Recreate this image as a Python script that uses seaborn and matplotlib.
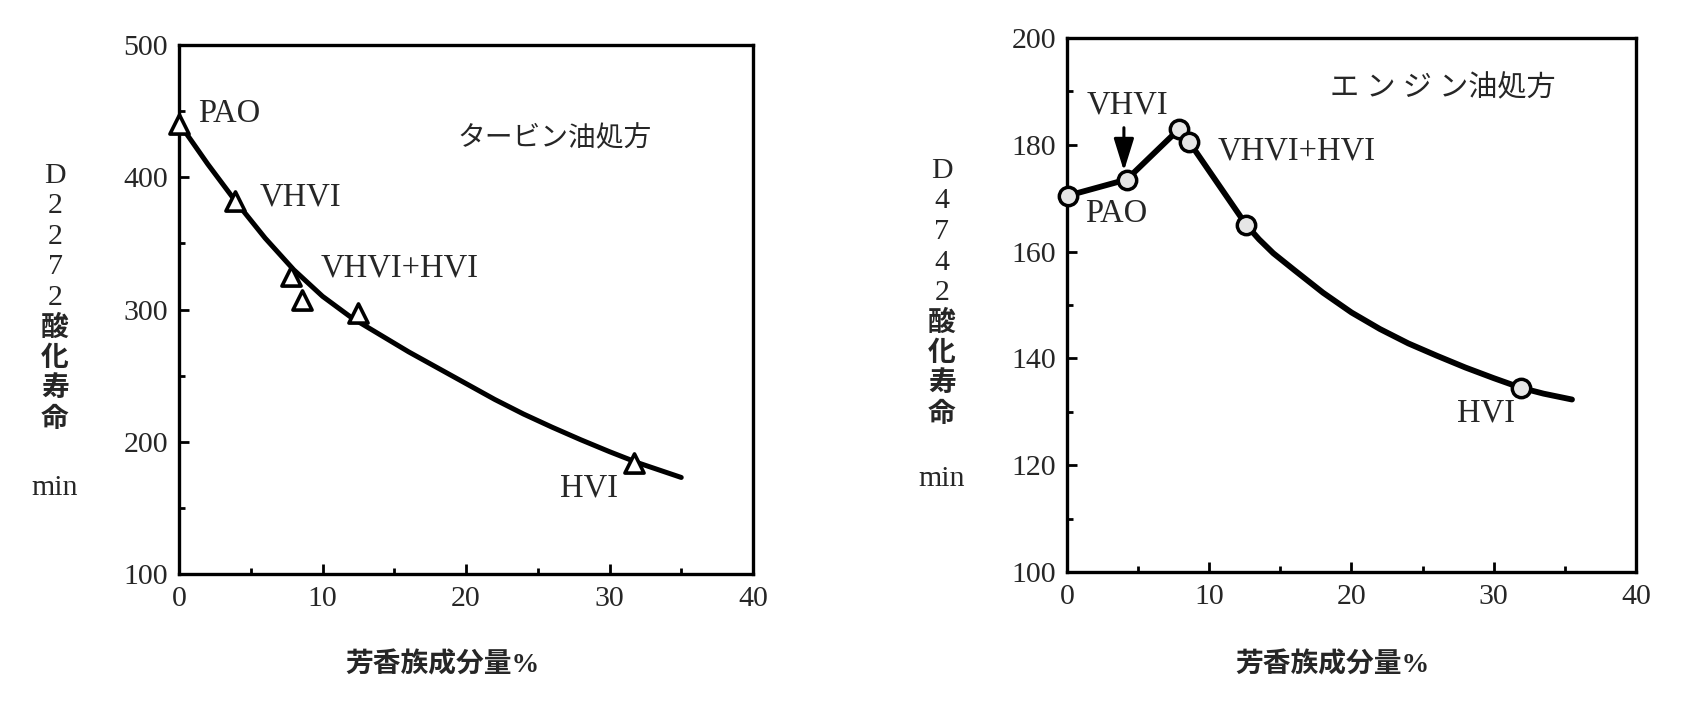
import matplotlib
matplotlib.use("Agg")
import matplotlib.pyplot as plt
from matplotlib.ticker import MultipleLocator
import seaborn as sns
import pandas as pd

# ---------------- data ----------------
# Left panel: turbine oil formulation (D2272 oxidation life, min)
turb_pts_x = [0.0, 3.9, 7.8, 8.6, 12.5, 31.7]
turb_pts_y = [440, 382, 325, 307, 297, 184]
turb_curve_x = [0, 2, 4, 6, 8, 10, 12, 14, 16, 18, 20, 22, 24, 26, 28, 30, 32, 35]
turb_curve_y = [441, 410, 381, 354, 330, 310, 294, 281, 268, 256, 244, 232, 221, 211, 201.5, 192.5, 184, 173]
turb_labels = ["PAO", "VHVI", "VHVI+HVI", "HVI"]
turb_label_x = [1.35, 5.6, 9.9, 26.55]
turb_label_y = [448, 385, 331, 165]

# Right panel: engine oil formulation (D4742 oxidation life, min)
eng_pts_x = [0.1, 4.2, 7.9, 8.6, 12.6, 31.9]
eng_pts_y = [170.5, 173.5, 183.0, 180.5, 165.0, 134.5]
eng_curve_x = [0.1, 4.2, 7.9, 8.6, 12.6, 13.5, 14.5, 16, 18, 20, 22, 24, 26, 28, 30, 31.9, 33.5, 35.5]
eng_curve_y = [170.5, 173.5, 183.0, 180.5, 165.0, 162.3, 159.7, 156.5, 152.3, 148.6, 145.5,
               142.8, 140.5, 138.3, 136.3, 134.5, 133.4, 132.3]
eng_labels = ["VHVI", "PAO", "VHVI+HVI", "HVI"]
eng_label_x = [1.4, 1.3, 10.6, 27.4]
eng_label_y = [187.5, 167.0, 178.8, 129.7]

xlabel = "芳香族成分量%"
left_title = "タービン油処方"
right_title = "エ ン ジ ン油処方"
left_ylabel = ["D", "2", "2", "7", "2", "酸", "化", "寿", "命"]
right_ylabel = ["D", "4", "7", "4", "2", "酸", "化", "寿", "命"]
ylabel_unit = "min"

# ---------------- style ----------------
sns.set_style("white")
FAM = ["Liberation Serif", "Noto Sans CJK JP"]
plt.rcParams["font.family"] = FAM
plt.rcParams["axes.linewidth"] = 2.4

fig = plt.figure(figsize=(16.99, 7.05), dpi=100)
axL = fig.add_axes([179 / 1699, 1 - 574 / 705, 574 / 1699, 529 / 705])
axR = fig.add_axes([1067 / 1699, 1 - 572 / 705, 569 / 1699, 534 / 705])

FS = 21.5
LBL = 23.5


def style_axis(ax, ymin, ymax, ymaj, ymin_step):
    ax.set_xlim(0, 40)
    ax.set_ylim(ymin, ymax)
    ax.xaxis.set_major_locator(MultipleLocator(10))
    ax.xaxis.set_minor_locator(MultipleLocator(5))
    ax.yaxis.set_major_locator(MultipleLocator(ymaj))
    ax.yaxis.set_minor_locator(MultipleLocator(ymin_step))
    ax.tick_params(which="both", direction="in", top=False, right=False,
                   left=True, bottom=True, width=2, color="black")
    ax.tick_params(which="major", length=7)
    ax.tick_params(which="minor", length=4)
    ax.tick_params(axis="x", which="major", pad=9, labelsize=FS)
    ax.tick_params(axis="y", which="major", pad=8, labelsize=FS)
    for s in ax.spines.values():
        s.set_visible(True)
        s.set_color("black")
        s.set_linewidth(2.4)
    ax.set_xlabel("")
    ax.set_ylabel("")
    ax.grid(False)


# ---------------- left panel ----------------
dfLc = pd.DataFrame({"x": turb_curve_x, "y": turb_curve_y})
dfLp = pd.DataFrame({"x": turb_pts_x, "y": turb_pts_y})
sns.lineplot(data=dfLc, x="x", y="y", ax=axL, color="black", lw=3.6,
             sort=False, estimator=None, zorder=2)
sns.scatterplot(data=dfLp, x="x", y="y", ax=axL, marker="^", s=190,
                facecolor="white", edgecolor="black", linewidth=2.6,
                zorder=3, clip_on=False)
style_axis(axL, 100, 500, 100, 50)
for t, x, y in zip(turb_labels, turb_label_x, turb_label_y):
    axL.text(x, y, t, fontsize=LBL, ha="left", va="center", family=FAM)
axL.text(19.4, 429, left_title, fontsize=20, ha="left", va="center", family=FAM)

# ---------------- right panel ----------------
dfRc = pd.DataFrame({"x": eng_curve_x, "y": eng_curve_y})
dfRp = pd.DataFrame({"x": eng_pts_x, "y": eng_pts_y})
sns.lineplot(data=dfRc, x="x", y="y", ax=axR, color="black", lw=4.2,
             sort=False, estimator=None, zorder=2)
sns.scatterplot(data=dfRp, x="x", y="y", ax=axR, marker="o", s=175,
                facecolor="#e6e6e6", edgecolor="black", linewidth=2.5,
                zorder=3, clip_on=False)
style_axis(axR, 100, 200, 20, 10)
for t, x, y in zip(eng_labels, eng_label_x, eng_label_y):
    axR.text(x, y, t, fontsize=LBL, ha="left", va="center", family=FAM)
axR.text(18.5, 190.5, right_title, fontsize=21, ha="left", va="center", family=FAM)
axR.annotate("", xy=(eng_pts_x[1] - 0.2, eng_pts_y[1] + 1.6),
             xytext=(eng_pts_x[1] - 0.2, 183.2),
             arrowprops=dict(arrowstyle="-|>,head_length=0.9,head_width=0.28",
                             color="black", lw=2.2, mutation_scale=22,
                             shrinkA=0, shrinkB=0))

# ---------------- axis labels (stacked vertical characters) ----------------
def stacked_label(chars, xc, ytop, step, yunit):
    for i, ch in enumerate(chars):
        yy = ytop + i * step
        if ch.isascii():
            fig.text(xc / 1699, 1 - yy / 705, ch, fontsize=FS, ha="center",
                     va="center", family=FAM)
        else:
            fig.text(xc / 1699, 1 - yy / 705, ch, fontsize=20, ha="center",
                     va="center", family=FAM, weight="bold")
    fig.text(xc / 1699, 1 - yunit / 705, ylabel_unit, fontsize=FS,
             ha="center", va="center", family=FAM)


stacked_label(left_ylabel, 55, 176, 30.5, 488)
stacked_label(right_ylabel, 942, 171, 30.5, 479)

fig.text(442 / 1699, 1 - 665 / 705, xlabel, fontsize=20, ha="center",
         va="center", family=FAM, weight="bold")
fig.text(1332 / 1699, 1 - 665 / 705, xlabel, fontsize=20, ha="center",
         va="center", family=FAM, weight="bold")

fig.savefig("out.png", dpi=100, facecolor="white")
